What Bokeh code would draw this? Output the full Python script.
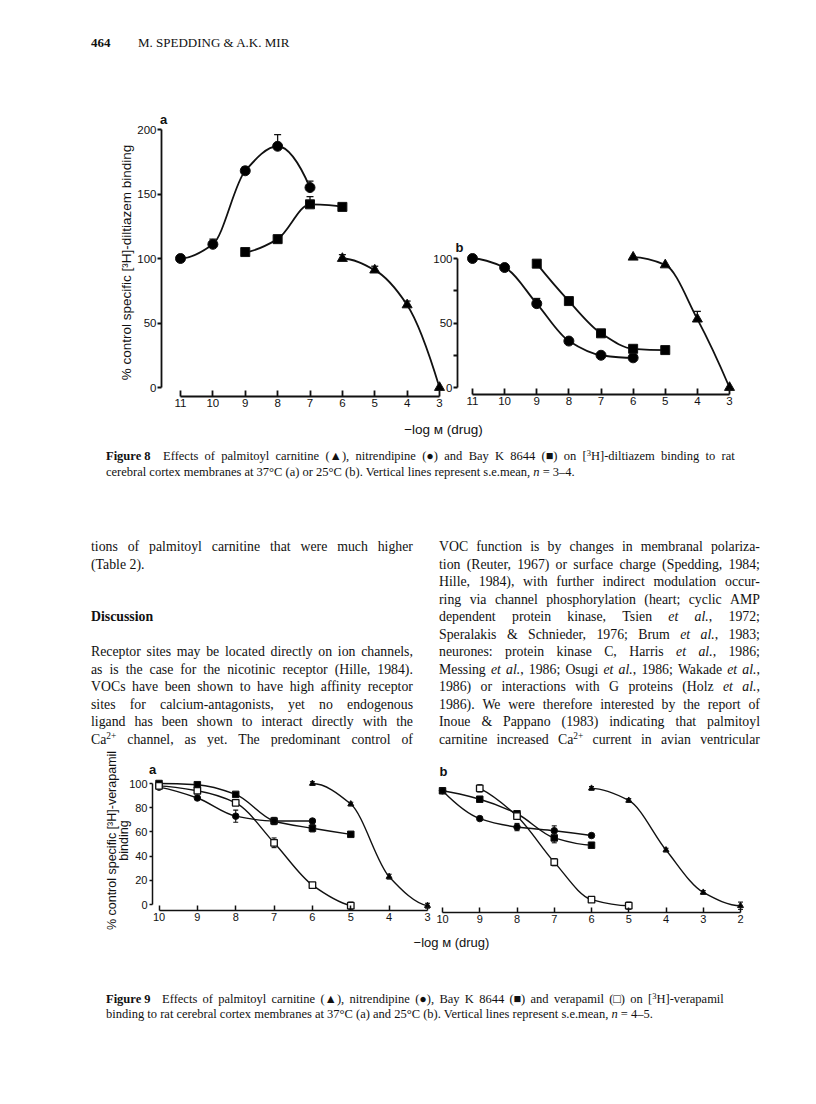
import math
import numpy as np
from bokeh.plotting import figure
from bokeh.models import (ColumnDataSource, Div, FixedTicker, Label, LinearAxis,
                          Range1d, TeeHead, Whisker)
from bokeh.layouts import column
from bokeh.embed import file_html
from bokeh.resources import INLINE

# ---------------- Figure 8 : [3H]-diltiazem binding (% control) ----------------
f8_ticks_x = [11, 10, 9, 8, 7, 6, 5, 4, 3]
f8a_ticks_y = [0, 50, 100, 150, 200]
f8b_ticks_y = [0, 25, 50, 75, 100]

# panel a (37 C)
f8a_nit_x = [11, 10, 9, 8, 7]
f8a_nit_y = [100, 111, 168, 187, 155]
f8a_nit_se = [0, 4, 3, 9, 5]
f8a_bay_x = [9, 8, 7, 6]
f8a_bay_y = [105, 115, 142, 140]
f8a_bay_se = [0, 3, 6, 0]
f8a_pal_x = [6, 5, 4, 3]
f8a_pal_y = [100, 91, 64, 0]
f8a_pal_se = [3, 3, 3, 0]

# panel b (25 C)
f8b_nit_x = [11, 10, 9, 8, 7, 6]
f8b_nit_y = [100, 93, 65, 36, 25, 23]
f8b_nit_se = [0, 0, 4, 0, 2, 0]
f8b_bay_x = [9, 8, 7, 6, 5]
f8b_bay_y = [96, 67, 42, 30, 29]
f8b_bay_se = [0, 0, 0, 0, 0]
f8b_pal_x = [6, 5, 4, 3]
f8b_pal_y = [101, 95, 53, 0]
f8b_pal_se = [0, 0, 6, 0]

# ---------------- Figure 9 : [3H]-verapamil binding (% control) ----------------
f9a_ticks_x = [10, 9, 8, 7, 6, 5, 4, 3]
f9b_ticks_x = [10, 9, 8, 7, 6, 5, 4, 3, 2]
f9_ticks_y = [0, 20, 40, 60, 80, 100]

# panel a (37 C)
f9a_bay_x = [10, 9, 8, 7, 6, 5]
f9a_bay_y = [100, 99, 91, 69, 63, 58]
f9a_bay_se = [0, 0, 0, 3, 3, 0]
f9a_nit_x = [10, 9, 8, 7, 6]
f9a_nit_y = [97, 88, 73, 69, 69]
f9a_nit_se = [0, 0, 5, 0, 2]
f9a_ver_x = [10, 9, 8, 7, 6, 5]
f9a_ver_y = [98, 94, 84, 51, 16, -1]
f9a_ver_se = [0, 0, 0, 4, 0, 3]
f9a_pal_x = [6, 5, 4, 3]
f9a_pal_y = [100, 83, 23, -1]
f9a_pal_se = [1.5, 1.5, 2, 2]

# panel b (25 C)
f9b_bay_x = [10, 9, 8, 7, 6]
f9b_bay_y = [94, 87, 75, 55, 49]
f9b_bay_se = [2, 2, 2, 4, 2]
f9b_nit_x = [10, 9, 8, 7, 6]
f9b_nit_y = [94, 71, 64, 61, 57]
f9b_nit_se = [0, 0, 3, 4, 0]
f9b_ver_x = [9, 8, 7, 6, 5]
f9b_ver_y = [96, 73, 35, 4, -1]
f9b_ver_se = [3, 0, 3, 0, 3]
f9b_pal_x = [6, 5, 4, 3, 2]
f9b_pal_y = [96, 86, 45, 10, -1]
f9b_pal_se = [1.5, 1.5, 1.5, 1.5, 3]

# ---------------- page texts ----------------
header_num = "464"
header_auth = "M. SPEDDING &amp; A.K. MIR"
cap8_lines = [
    "<b>Figure&nbsp;8</b>&ensp; Effects of palmitoyl carnitine (&#9650;), nitrendipine (&#9679;) and Bay K 8644 (&#9632;) on [<sup>3</sup>H]-diltiazem binding to rat",
    "cerebral cortex membranes at 37&deg;C (a) or 25&deg;C (b). Vertical lines represent s.e.mean, <i>n</i> = 3&ndash;4.",
]
cap9_lines = [
    "<b>Figure&nbsp;9</b>&ensp; Effects of palmitoyl carnitine (&#9650;), nitrendipine (&#9679;), Bay K 8644 (&#9632;) and verapamil (&#9633;) on [<sup>3</sup>H]-verapamil",
    "binding to rat cerebral cortex membranes at 37&deg;C (a) and 25&deg;C (b). Vertical lines represent s.e.mean, <i>n</i> = 4&ndash;5.",
]
body_left = [
    (0, "tions of palmitoyl carnitine that were much higher", True),
    (1, "(Table 2).", False),
    (3.95, "<b>Discussion</b>", False),
    (6, "Receptor sites may be located directly on ion channels,", True),
    (7, "as is the case for the nicotinic receptor (Hille, 1984).", True),
    (8, "VOCs have been shown to have high affinity receptor", True),
    (9, "sites for calcium-antagonists, yet no endogenous", True),
    (10, "ligand has been shown to interact directly with the", True),
    (11, "Ca<sup>2+</sup> channel, as yet. The predominant control of", True),
]
body_right = [
    "VOC function is by changes in membranal polariza-",
    "tion (Reuter, 1967) or surface charge (Spedding, 1984;",
    "Hille, 1984), with further indirect modulation occur-",
    "ring via channel phosphorylation (heart; cyclic AMP",
    "dependent protein kinase, Tsien <i>et</i> <i>al.</i>, 1972;",
    "Speralakis &amp; Schnieder, 1976; Brum <i>et</i> <i>al.</i>, 1983;",
    "neurones: protein kinase C, Harris <i>et</i> <i>al.</i>, 1986;",
    "Messing <i>et</i> <i>al.</i>, 1986; Osugi <i>et</i> <i>al.</i>, 1986; Wakade <i>et</i> <i>al.</i>,",
    "1986) or interactions with G proteins (Holz <i>et</i> <i>al.</i>,",
    "1986). We were therefore interested by the report of",
    "Inoue &amp; Pappano (1983) indicating that palmitoyl",
    "carnitine increased Ca<sup>2+</sup> current in avian ventricular",
]

SANS = "Liberation Sans"
SERIF = "'Liberation Serif', 'Times New Roman', serif"
INK = "#111111"
SUP = '<sup style="font-size:0.68em;line-height:0;vertical-align:0.5em">'
PAGE_W = 800


# ---------------- helpers ----------------
def lin(pa, va, pb, vb):
    k = (vb - va) / (pb - pa)
    return lambda p: va + (p - pa) * k


def pchip_bezier(xs, ys):
    x = np.asarray(xs, float)
    y = np.asarray(ys, float)
    o = np.argsort(x)
    x, y = x[o], y[o]
    h = np.diff(x)
    d = np.diff(y) / h
    n = len(x)
    m = np.zeros(n)
    if n == 2:
        m[:] = d[0]
    else:
        for k in range(1, n - 1):
            if d[k - 1] * d[k] > 0:
                w1 = 2 * h[k] + h[k - 1]
                w2 = h[k] + 2 * h[k - 1]
                m[k] = (w1 + w2) / (w1 / d[k - 1] + w2 / d[k])

        def end(h0, h1, d0, d1):
            s = ((2 * h0 + h1) * d0 - h0 * d1) / (h0 + h1)
            if np.sign(s) != np.sign(d0):
                s = 0.0
            elif np.sign(d0) != np.sign(d1) and abs(s) > abs(3 * d0):
                s = 3 * d0
            return s

        m[0] = end(h[0], h[1], d[0], d[1])
        m[-1] = end(h[-1], h[-2], d[-1], d[-2])
    return dict(x0=x[:-1], y0=y[:-1], x1=x[1:], y1=y[1:],
                cx0=x[:-1] + h / 3, cy0=y[:-1] + m[:-1] * h / 3,
                cx1=x[1:] - h / 3, cy1=y[1:] - m[1:] * h / 3)


def add_series(p, xs, ys, se, marker, size, rng="default", fill="black",
               lw=1.8, cap=7, both=False, mlw=1.0, elw=1.3):
    p.bezier(x0="x0", y0="y0", x1="x1", y1="y1", cx0="cx0", cy0="cy0",
             cx1="cx1", cy1="cy1", source=ColumnDataSource(pchip_bezier(xs, ys)),
             line_color=INK, line_width=lw, x_range_name=rng)
    ex = [x for x, s in zip(xs, se) if s > 0]
    if ex:
        up = [y + s for y, s in zip(ys, se) if s > 0]
        lo = [(y - s) if both else y for y, s in zip(ys, se) if s > 0]
        src = ColumnDataSource(dict(x=ex, up=up, lo=lo))
        w = Whisker(base="x", upper="up", lower="lo", source=src, dimension="height",
                    line_color=INK, line_width=elw, x_range_name=rng,
                    upper_head=TeeHead(size=cap, line_width=elw, line_color=INK),
                    lower_head=TeeHead(size=cap, line_width=elw, line_color=INK) if both else None)
        p.add_layout(w)
    p.scatter(xs, ys, marker=marker, size=size, fill_color=fill, line_color=INK,
              line_width=mlw, x_range_name=rng)


def add_axis(p, side, loc, bounds, ticks, rng="default", tin=0, tout=0,
             size="11px", standoff=3, overrides=None, lw=1.8):
    kw = {"x_range_name": rng} if side == "below" else {}
    ax = LinearAxis(fixed_location=loc, bounds=bounds,
                    ticker=FixedTicker(ticks=ticks, minor_ticks=[]), **kw)
    ax.axis_line_color = INK
    ax.axis_line_width = lw
    ax.major_tick_line_color = INK
    ax.major_tick_line_width = lw
    ax.minor_tick_line_color = None
    ax.major_tick_in = tin
    ax.major_tick_out = tout
    ax.major_label_standoff = standoff
    ax.major_label_text_font = SANS
    ax.major_label_text_font_size = size
    ax.major_label_text_color = INK
    if overrides:
        ax.major_label_overrides = overrides
    p.add_layout(ax, side)
    return ax


def label(p, x, y, text, size="13px", bold=False, angle=0.0):
    p.add_layout(Label(x=x, y=y, text=text, text_font=SANS, text_font_size=size,
                       text_font_style="bold" if bold else "normal", text_color=INK,
                       text_align="center", text_baseline="middle", angle=angle))


def base_fig(height, xr, yr, extra):
    p = figure(width=PAGE_W, height=height, x_range=xr, y_range=yr,
               x_axis_location=None, y_axis_location=None, toolbar_location=None,
               tools="", output_backend="svg", min_border=0,
               outline_line_color=None)
    p.extra_x_ranges = extra
    p.grid.visible = False
    p.background_fill_color = "white"
    p.border_fill_color = "white"
    return p


# ---------------- Figure 8 ----------------
F8_TOP, F8_BOT = 90, 443
x8a = lin(180, 11, 439, 3)
x8b = lin(472, 11, 729, 3)
y8 = lin(387, 0, 129, 200)
p8 = base_fig(F8_BOT - F8_TOP, Range1d(x8a(0), x8a(PAGE_W)), Range1d(y8(F8_BOT), y8(F8_TOP)),
              {"b": Range1d(x8b(0), x8b(PAGE_W))})

add_axis(p8, "left", x8a(161), (0, 200), f8a_ticks_y, tout=4, standoff=1, size="11.5px")
add_axis(p8, "below", y8(396), (3, 11), f8_ticks_x, tin=6, standoff=2, size="11.5px")
add_axis(p8, "left", x8a(457), (0, 100), f8b_ticks_y, tout=4, standoff=1, size="11.5px",
         overrides={25: "", 75: ""})
add_axis(p8, "below", y8(394), (3, 11), f8_ticks_x, rng="b", tin=6, standoff=2, size="11.5px")

add_series(p8, f8a_nit_x, f8a_nit_y, f8a_nit_se, "circle", 10)
add_series(p8, f8a_bay_x, f8a_bay_y, f8a_bay_se, "square", 9)
add_series(p8, f8a_pal_x, f8a_pal_y, f8a_pal_se, "triangle", 10)
add_series(p8, f8b_nit_x, f8b_nit_y, f8b_nit_se, "circle", 10, rng="b")
add_series(p8, f8b_bay_x, f8b_bay_y, f8b_bay_se, "square", 9, rng="b")
add_series(p8, f8b_pal_x, f8b_pal_y, f8b_pal_se, "triangle", 10, rng="b")

label(p8, x8a(163), y8(119), "a", bold=True)
label(p8, x8a(459), y8(247), "b", bold=True)
label(p8, x8a(126), y8(262), "% control specific [³H]-diltiazem binding", size="13.5px",
      angle=math.pi / 2)
label(p8, x8a(443), y8(429), "\u2212log \u1d0d (drug)", size="13.5px")

# ---------------- Figure 9 ----------------
F9_TOP, F9_BOT = 746, 962
x9a = lin(158.5, 10, 427, 3)
x9b = lin(442, 10, 740, 2)
y9 = lin(904, 0, 783, 100)
p9 = base_fig(F9_BOT - F9_TOP, Range1d(x9a(0), x9a(PAGE_W)), Range1d(y9(F9_BOT), y9(F9_TOP)),
              {"b": Range1d(x9b(0), x9b(PAGE_W))})

add_axis(p9, "left", x9a(152), (0, 100), f9_ticks_y, tout=3, standoff=2, lw=1.5)
add_axis(p9, "below", y9(910), (3, 10), f9a_ticks_x, tin=5, standoff=2, lw=1.5)
add_axis(p9, "below", y9(912), (2, 10), f9b_ticks_x, rng="b", tin=5, standoff=2, lw=1.5)

for rng, sets in (("default", [(f9a_bay_x, f9a_bay_y, f9a_bay_se, "square", "black"),
                               (f9a_nit_x, f9a_nit_y, f9a_nit_se, "circle", "black"),
                               (f9a_ver_x, f9a_ver_y, f9a_ver_se, "square", "white"),
                               (f9a_pal_x, f9a_pal_y, f9a_pal_se, "triangle", "black")]),
                  ("b", [(f9b_bay_x, f9b_bay_y, f9b_bay_se, "square", "black"),
                         (f9b_nit_x, f9b_nit_y, f9b_nit_se, "circle", "black"),
                         (f9b_ver_x, f9b_ver_y, f9b_ver_se, "square", "white"),
                         (f9b_pal_x, f9b_pal_y, f9b_pal_se, "triangle", "black")])):
    for xs, ys, se, mk, fill in sets:
        add_series(p9, xs, ys, se, mk, 6.5 if mk != "triangle" else 6, rng=rng, fill=fill,
                   lw=1.4, cap=5, both=True, mlw=1.3 if fill == "white" else 1.0, elw=1.1)

label(p9, x9a(152), y9(769), "a", bold=True)
label(p9, x9a(443), y9(771), "b", bold=True)
label(p9, x9a(111), y9(840), "% control specific [³H]-verapamil", size="12.5px",
      angle=math.pi / 2)
label(p9, x9a(123.5), y9(840), "binding", size="12.5px", angle=math.pi / 2)
label(p9, x9a(451), y9(942), "\u2212log \u1d0d (drug)", size="13px")


# ---------------- text blocks ----------------
def line_html(html, page_x, page_yc, div_top, size, width=None, justify=False):
    lh = size * 1.25
    st = (f"position:absolute;left:{page_x:.1f}px;top:{page_yc - div_top - lh / 2:.1f}px;"
          f"font-size:{size}px;line-height:{lh:.1f}px;white-space:nowrap;")
    if justify and width:
        st += (f"width:{width}px;display:flex;justify-content:space-between;"
               "align-items:baseline;")
        inner = "".join(f"<span>{w.replace('<sup>', SUP)}</span>" for w in html.split(" "))
    else:
        inner = html.replace("<sup>", SUP)
    return f'<div style="{st}">{inner}</div>'


def block(h, parts):
    return Div(text=(f'<div style="position:relative;width:{PAGE_W}px;height:{h}px;'
                     f'font-family:{SERIF};color:{INK};">' + "".join(parts) + "</div>"),
               width=PAGE_W, height=h, margin=0, styles={"overflow": "visible"})


D1_TOP, D1_BOT = 0, F8_TOP
d1 = block(D1_BOT - D1_TOP, [
    line_html(f"<b>{header_num}</b>", 91, 43, D1_TOP, 13),
    line_html(header_auth, 138, 43, D1_TOP, 13),
])

D2_TOP, D2_BOT = F8_BOT, F9_TOP
parts2 = [line_html(cap8_lines[0], 106, 457, D2_TOP, 12.5, width=629, justify=True),
          line_html(cap8_lines[1], 106, 473, D2_TOP, 12.5)]
BODY_Y0, BODY_DY, BODY_FS = 547, 17.5, 13.8
for idx, txt, just in body_left:
    parts2.append(line_html(txt, 91, BODY_Y0 + idx * BODY_DY, D2_TOP, BODY_FS,
                            width=322, justify=just))
for idx, txt in enumerate(body_right):
    parts2.append(line_html(txt, 439, BODY_Y0 + idx * BODY_DY, D2_TOP, BODY_FS,
                            width=321, justify=True))
d2 = block(D2_BOT - D2_TOP, parts2)

D3_TOP, D3_BOT = F9_BOT, 1104
d3 = block(D3_BOT - D3_TOP, [
    line_html(cap9_lines[0], 106, 1000, D3_TOP, 12.5, width=618, justify=True),
    line_html(cap9_lines[1], 106, 1015, D3_TOP, 12.5),
])

page = column(d1, p8, d2, p9, d3, spacing=0)
open("out.html", "w").write(file_html(page, INLINE))
